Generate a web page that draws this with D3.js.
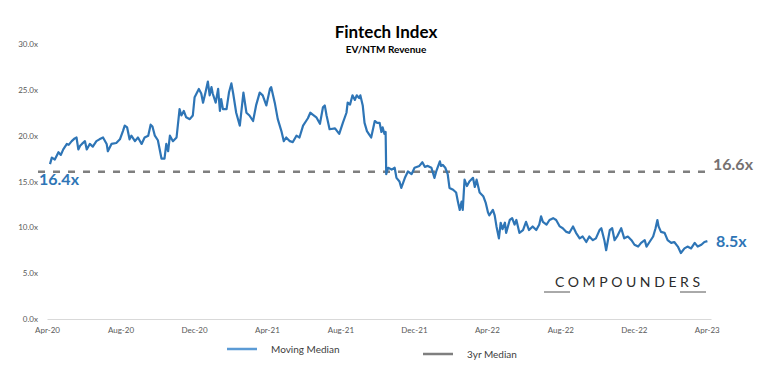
<!DOCTYPE html>
<html>
<head>
<meta charset="utf-8">
<script src="https://cdn.jsdelivr.net/npm/d3@7"></script>
<style>
  html, body { margin: 0; padding: 0; background: #ffffff; }
  svg { display: block; font-family: Lato, "Open Sans", sans-serif; }
</style>
</head>
<body>
<svg id="chart" width="770" height="379"></svg>
<script>
// ---------------- DATA ----------------
const title = "Fintech Index";
const subtitle = "EV/NTM Revenue";
const seriesName = "Moving Median";
const medianName = "3yr Median";

const dates = [
"2020-04-06","2020-04-09","2020-04-14","2020-04-20","2020-04-24","2020-04-28","2020-05-04","2020-05-07","2020-05-12","2020-05-17",
"2020-05-20","2020-05-23","2020-05-26","2020-05-29","2020-06-03","2020-06-06","2020-06-11","2020-06-16","2020-06-22","2020-06-27",
"2020-07-03","2020-07-09","2020-07-11","2020-07-17","2020-07-25","2020-07-31","2020-08-05","2020-08-08","2020-08-12","2020-08-16",
"2020-08-19","2020-08-25","2020-08-30","2020-09-05","2020-09-10","2020-09-16","2020-09-20","2020-09-23","2020-09-27","2020-10-02",
"2020-10-08","2020-10-13","2020-10-16","2020-10-19","2020-10-22","2020-10-27","2020-11-02","2020-11-07","2020-11-10","2020-11-14",
"2020-11-18","2020-11-24","2020-11-29","2020-12-02","2020-12-09","2020-12-13","2020-12-16","2020-12-20","2020-12-24","2020-12-27",
"2020-12-30","2021-01-01","2021-01-06","2021-01-10","2021-01-13","2021-01-15","2021-01-18","2021-01-24","2021-01-28","2021-02-01",
"2021-02-04","2021-02-09","2021-02-15","2021-02-18","2021-02-21","2021-02-26","2021-03-03","2021-03-09","2021-03-14","2021-03-20",
"2021-03-25","2021-03-31","2021-04-06","2021-04-08","2021-04-14","2021-04-19","2021-04-25","2021-04-29","2021-05-03","2021-05-09",
"2021-05-14","2021-05-20","2021-05-25","2021-05-31","2021-06-05","2021-06-08","2021-06-12","2021-06-16","2021-06-22","2021-06-28",
"2021-07-03","2021-07-06","2021-07-09","2021-07-14","2021-07-23","2021-07-30","2021-08-05","2021-08-11","2021-08-13","2021-08-17",
"2021-08-21","2021-08-25","2021-08-28","2021-09-01","2021-09-03","2021-09-07","2021-09-10","2021-09-14","2021-09-17","2021-09-21",
"2021-09-27","2021-10-01","2021-10-05","2021-10-08","2021-10-10","2021-10-13","2021-10-15","2021-10-16","2021-10-19","2021-10-25",
"2021-10-30","2021-11-02","2021-11-07","2021-11-10","2021-11-16","2021-11-21","2021-11-27","2021-12-02","2021-12-10","2021-12-15",
"2021-12-19","2021-12-24","2021-12-30","2022-01-04","2022-01-07","2022-01-13","2022-01-15","2022-01-18","2022-01-22","2022-01-26",
"2022-01-29","2022-02-04","2022-02-09","2022-02-12","2022-02-15","2022-02-18","2022-02-20","2022-02-23","2022-02-27","2022-03-03",
"2022-03-09","2022-03-12","2022-03-15","2022-03-20","2022-03-26","2022-03-30","2022-04-03","2022-04-05","2022-04-11","2022-04-14",
"2022-04-17","2022-04-21","2022-04-24","2022-04-27","2022-05-01","2022-05-03","2022-05-09","2022-05-13","2022-05-17","2022-05-20",
"2022-05-25","2022-05-31","2022-06-05","2022-06-10","2022-06-16","2022-06-22","2022-06-27","2022-06-30","2022-07-03","2022-07-09",
"2022-07-14","2022-07-20","2022-07-25","2022-07-31","2022-08-05","2022-08-11","2022-08-16","2022-08-22","2022-08-27","2022-09-02",
"2022-09-07","2022-09-13","2022-09-18","2022-09-24","2022-09-29","2022-10-05","2022-10-08","2022-10-13","2022-10-16","2022-10-22",
"2022-10-26","2022-10-30","2022-11-04","2022-11-10","2022-11-15","2022-11-21","2022-11-27","2022-12-02","2022-12-08","2022-12-13",
"2022-12-19","2022-12-22","2022-12-27","2023-01-02","2023-01-06","2023-01-09","2023-01-11","2023-01-15","2023-01-21","2023-01-26",
"2023-02-01","2023-02-06","2023-02-12","2023-02-17","2023-02-23","2023-02-28","2023-03-06","2023-03-12","2023-03-17","2023-03-23",
"2023-03-28","2023-04-02"
];

const values = [
16.9,17.6,17.4,18.2,17.9,18.5,19.1,19.0,19.4,19.7,
19.8,18.5,18.9,19.1,19.4,18.5,19.1,18.8,19.4,19.6,
19.8,19.1,18.3,19.1,19.2,19.6,20.5,21.1,20.9,19.6,
20.0,19.4,19.8,19.1,19.8,20.0,21.2,21.0,20.0,19.5,
17.5,17.5,19.1,18.3,20.0,19.4,19.8,22.9,22.2,22.7,
22.0,21.8,22.2,24.2,25.1,24.6,23.6,24.7,25.9,24.4,
25.3,24.6,23.6,25.1,22.7,24.0,22.9,22.9,24.7,25.7,
24.6,22.5,21.1,22.9,24.7,22.5,22.2,21.6,23.3,24.7,
24.4,23.3,25.1,25.3,23.6,21.8,20.5,19.4,19.8,19.4,
19.3,20.0,19.8,21.1,21.6,21.9,22.5,22.3,22.0,21.3,
23.1,23.3,22.2,20.7,20.8,20.2,21.4,22.5,23.6,23.4,
24.4,23.9,24.4,24.1,24.4,23.3,21.4,20.5,20.2,19.8,
21.6,21.4,21.4,20.4,20.9,20.2,20.4,15.8,16.5,16.3,
16.5,15.4,15.0,14.3,15.4,16.1,15.8,16.5,16.7,17.1,
16.6,16.7,16.5,15.4,16.1,17.2,16.7,16.8,16.5,15.8,
14.3,14.1,13.8,12.8,11.9,12.8,11.9,15.2,14.5,15.0,
15.4,14.4,15.2,13.8,13.4,12.7,11.6,11.3,11.9,11.3,
10.1,8.8,10.5,9.8,10.5,9.4,10.8,11.0,10.3,10.8,
9.4,9.7,10.6,9.7,10.1,9.7,10.3,11.2,10.6,10.3,
10.8,11.0,10.8,10.1,9.9,9.5,9.4,10.1,9.4,8.8,
9.0,8.4,9.0,8.6,8.8,9.7,9.9,8.6,7.5,9.7,
9.9,8.6,9.1,9.9,8.8,9.0,8.6,8.1,7.9,8.3,
8.6,7.9,8.4,9.0,9.9,10.8,10.1,9.5,9.4,8.6,
8.3,8.4,7.9,7.2,7.7,7.9,7.7,8.3,7.9,8.1,
8.4,8.5
];

const medianLevel = 16.06;          // drawn level of the dashed 3yr median line
const startLabel = "16.4x";
const medianLabel = "16.6x";
const lastLabel = "8.5x";

const yTicks = [0, 5, 10, 15, 20, 25, 30];
const xTickDates = ["2020-04-01","2020-08-01","2020-12-01","2021-04-01","2021-08-01","2021-12-01",
                    "2022-04-01","2022-08-01","2022-12-01","2023-04-01"];
const watermark = "COMPOUNDERS";

// ---------------- CHART ----------------
const parse = d3.timeParse("%Y-%m-%d");
const data = dates.map((d, i) => ({ date: parse(d), value: values[i] }));

const svg = d3.select("#chart");
const blue = "#2E75B6";
const grey = "#7F7F7F";

const x = d3.scaleTime()
  .domain([parse("2020-04-01"), parse("2023-04-08")])
  .range([47, 711]);
const y = d3.scaleLinear().domain([0, 30]).range([319, 44]);

// Title
svg.append("text").attr("x", 386).attr("y", 38).attr("text-anchor", "middle")
  .attr("font-size", 17).attr("font-weight", 700).attr("fill", "#000").text(title);
svg.append("text").attr("x", 386).attr("y", 53).attr("text-anchor", "middle")
  .attr("font-size", 10).attr("font-weight", 700).attr("fill", "#000").text(subtitle);

// Y axis
const yAxis = svg.append("g").attr("transform", "translate(39,0)")
  .call(d3.axisLeft(y).tickValues(yTicks).tickSize(0).tickPadding(1)
    .tickFormat(d => d3.format(".1f")(d) + "x"));
yAxis.select(".domain").remove();
yAxis.selectAll("text").attr("font-size", 8).attr("fill", "#595959")
  .attr("font-family", "Lato, sans-serif");

// X axis
const xAxis = svg.append("g").attr("transform", `translate(0,${y(0)})`)
  .call(d3.axisBottom(x).tickValues(xTickDates.map(parse)).tickSize(0).tickPadding(8)
    .tickFormat(d3.timeFormat("%b-%y")));
xAxis.select(".domain").attr("stroke", "#D9D9D9").attr("stroke-width", 1);
xAxis.selectAll("text").attr("font-size", 8).attr("fill", "#595959")
  .attr("font-family", "Lato, sans-serif");

// Median dashed line
svg.append("line")
  .attr("x1", x(parse("2020-04-01")) - 9).attr("x2", x(parse("2023-04-02")))
  .attr("y1", y(medianLevel)).attr("y2", y(medianLevel))
  .attr("stroke", grey).attr("stroke-width", 2.5).attr("stroke-dasharray", "7,8");

// Series line
svg.append("path").datum(data)
  .attr("fill", "none").attr("stroke", blue).attr("stroke-width", 2.2)
  .attr("stroke-linejoin", "round")
  .attr("d", d3.line().x(d => x(d.date)).y(d => y(d.value)));

// Labels
svg.append("text").attr("x", 39).attr("y", 185).attr("font-size", 16).attr("font-weight", 700)
  .attr("fill", blue).text(startLabel);
svg.append("text").attr("x", 713).attr("y", 170).attr("font-size", 16).attr("font-weight", 700)
  .attr("fill", "#767171").text(medianLabel);
const last = data[data.length - 1];
svg.append("text").attr("x", 716).attr("y", y(last.value) + 6).attr("font-size", 16).attr("font-weight", 700)
  .attr("fill", blue).text(lastLabel);

// Watermark
svg.append("text").attr("x", 555).attr("y", 287).attr("font-size", 14)
  .attr("letter-spacing", 3.6).attr("fill", "#2b2b2b").attr("font-family", "Lato, sans-serif")
  .text(watermark);
svg.append("line").attr("x1", 544).attr("x2", 570).attr("y1", 292).attr("y2", 292)
  .attr("stroke", "#555").attr("stroke-width", 1);
svg.append("line").attr("x1", 680).attr("x2", 706).attr("y1", 292).attr("y2", 292)
  .attr("stroke", "#555").attr("stroke-width", 1);

// Legend
const legend = [
  { name: seriesName, color: "#5B9BD5", x1: 227, y: 349 },
  { name: medianName, color: grey, x1: 423, y: 354 }
];
legend.forEach(l => {
  svg.append("line").attr("x1", l.x1).attr("x2", l.x1 + 30).attr("y1", l.y).attr("y2", l.y)
    .attr("stroke", l.color).attr("stroke-width", 2.5);
  svg.append("text").attr("x", l.x1 + 44).attr("y", l.y + 3.5).attr("font-size", 10)
    .attr("fill", "#404040").text(l.name);
});
</script>
</body>
</html>
